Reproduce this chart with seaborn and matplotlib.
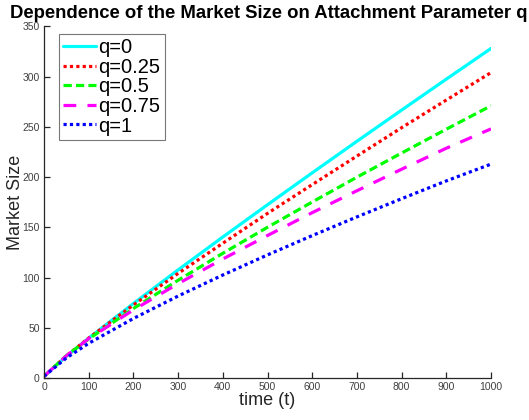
import numpy as np
import pandas as pd
import seaborn as sns
import matplotlib.pyplot as plt

# tempo e tamanho de mercado
t = [0, 50, 100, 200, 300, 400, 500, 600, 700, 800, 900, 1000]
q0 = [2, 21.8, 40, 74.4, 107.8, 140.5, 172.6, 204.3, 235.7, 266.7, 297.5, 328]
q025 = [2, 22.4, 40, 72.9, 104.3, 134.3, 164, 192.6, 221, 249.2, 276.7, 304]
q05 = [2, 22.5, 39.1, 69.4, 97.5, 124.3, 150.2, 175.3, 200, 224, 247.7, 271]
q075 = [2, 22.3, 39.4, 68, 94.1, 118.6, 142, 164.7, 186.5, 207.9, 228.8, 248]
q1 = [2, 20.2, 34.8, 59.5, 81.8, 102.7, 122.7, 141.9, 160.5, 178.6, 196.3, 213]

labels = ['q=0', 'q=0.25', 'q=0.5', 'q=0.75', 'q=1']
series = [q0, q025, q05, q075, q1]

df = pd.DataFrame({'t': t})
for lab, s in zip(labels, series):
    df[lab] = s
df = df.melt(id_vars='t', var_name='q', value_name='size')

sns.set_style('white', {'xtick.bottom': True, 'ytick.left': True,
                        'xtick.direction': 'in', 'ytick.direction': 'in'})
plt.rcParams['font.family'] = ['Liberation Sans', 'DejaVu Sans']
plt.rcParams['xtick.major.size'] = 4
plt.rcParams['ytick.major.size'] = 4

fig = plt.figure(figsize=(5.29, 4.2), dpi=100)
ax = fig.add_axes([0.0832, 0.0993, 0.845, 0.838])

cores = ['#00ffff', '#ff0000', '#00ff00', '#ff00ff', '#0000ff']
estilos = ['-', (0, (1, 1)), (0, (2.6, 1.3)), (0, (4, 3.5)), (0, (1, 1))]

sns.lineplot(data=df, x='t', y='size', hue='q', palette=cores, ax=ax,
             legend=False, lw=2.3)
for linha, est in zip(ax.lines, estilos):
    linha.set_linestyle(est)

ax.set_xlim(0, 1000)
ax.set_ylim(0, 350)
ax.set_xticks(range(0, 1001, 100))
ax.set_yticks(range(0, 351, 50))
ax.tick_params(direction='in', length=4.5, width=0.9, labelsize=7.5,
               labelcolor='#404040', color='#262626', pad=3,
               bottom=True, left=True)
sns.despine(ax=ax)
for s in ['left', 'bottom']:
    ax.spines[s].set_color('#262626')
    ax.spines[s].set_linewidth(0.9)

ax.set_xlabel('time (t)', fontsize=13, color='#262626', labelpad=0)
ax.set_ylabel('Market Size', fontsize=13, color='#262626', labelpad=-1)
ax.set_title('Dependence of the Market Size on Attachment Parameter q',
             fontsize=13.3, fontweight='bold', pad=6, x=0.503, color='black')

leg = ax.legend(ax.lines, labels, loc='upper left',
                bbox_to_anchor=(0.034, 0.978), fontsize=14.5, frameon=True,
                fancybox=False, edgecolor='#555555', handlelength=1.65,
                handletextpad=0.1, labelspacing=0.03, borderpad=0.2,
                borderaxespad=0, labelcolor='black')
leg.get_frame().set_linewidth(0.8)

plt.savefig('out.png', dpi=100)
